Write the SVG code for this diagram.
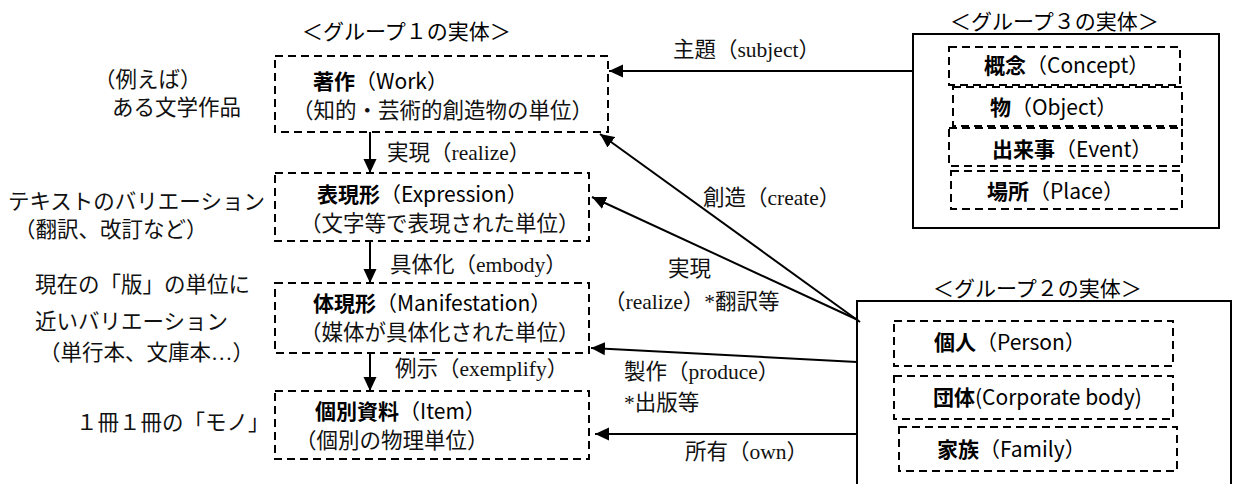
<svg xmlns="http://www.w3.org/2000/svg" width="1233" height="484" viewBox="0 0 1233 484">
<style>
.bg{fill:#fff}
.dash{fill:none;stroke:#000;stroke-width:2;stroke-dasharray:8,5}
.solid{fill:#fff;stroke:#000;stroke-width:2}
.con{fill:none;stroke:#000;stroke-width:2}
.m{font-family:"Liberation Serif","Noto Sans CJK JP",serif;font-size:21.5px;fill:#111;dominant-baseline:central}
.g{font-family:"Noto Sans CJK JP",sans-serif;font-size:21px;fill:#000;dominant-baseline:central}
.b{font-weight:bold}
</style>
<defs>
<marker id="ah" markerUnits="userSpaceOnUse" markerWidth="15" markerHeight="14" refX="14" refY="7" orient="auto">
<path d="M0,0.5 L14,7 L0,13.5 z" fill="#000"/>
</marker>
</defs>
<rect class="bg" x="0" y="0" width="1233" height="484"/>

<!-- Left annotation texts -->
<g id="annotations">
<text class="m" x="94" y="80">（例えば）</text>
<text class="m" x="112" y="108">ある文学作品</text>
<text class="m" x="8" y="202">テキストのバリエーション</text>
<text class="m" x="14" y="230">（翻訳、改訂など）</text>
<text class="m" x="35" y="285">現在の「版」の単位に</text>
<text class="m" x="35" y="322">近いバリエーション</text>
<text class="m" x="39" y="353">（単行本、文庫本…）</text>
<text class="m" x="76" y="423">１冊１冊の「モノ」</text>
</g>

<!-- Group 1 -->
<g id="group1">
<text class="g" x="302" y="30">＜グループ１の実体＞</text>
</g>
<g id="work">
<rect class="dash" x="275" y="56" width="333" height="76"/>
<text class="g" x="313" y="80"><tspan class="b">著作</tspan>（Work）</text>
<text class="m" x="292" y="111">（知的・芸術的創造物の単位）</text>
</g>
<g id="expression">
<rect class="dash" x="275" y="173" width="314" height="68"/>
<text class="g" x="317" y="193"><tspan class="b">表現形</tspan>（Expression）</text>
<text class="m" x="300" y="224">（文字等で表現された単位）</text>
</g>
<g id="manifestation">
<rect class="dash" x="275" y="283" width="314" height="70"/>
<text class="g" x="313" y="302"><tspan class="b">体現形</tspan>（Manifestation）</text>
<text class="m" x="300" y="333">（媒体が具体化された単位）</text>
</g>
<g id="item">
<rect class="dash" x="275" y="391" width="314" height="68"/>
<text class="g" x="315" y="410"><tspan class="b">個別資料</tspan>（Item）</text>
<text class="m" x="295" y="441">（個別の物理単位）</text>
</g>

<!-- Group 3 -->
<g id="group3">
<text class="g" x="950" y="20">＜グループ３の実体＞</text>
<rect class="solid" x="913" y="34" width="306" height="194"/>
</g>
<g id="concept">
<rect class="dash" x="949" y="47" width="231" height="38"/>
<text class="g" x="984" y="64"><tspan class="b">概念</tspan>（Concept）</text>
</g>
<g id="object">
<rect class="dash" x="953" y="87" width="229" height="39"/>
<text class="g" x="990" y="106"><tspan class="b">物</tspan>（Object）</text>
</g>
<g id="event">
<rect class="dash" x="949" y="128" width="233" height="38"/>
<text class="g" x="992" y="148"><tspan class="b">出来事</tspan>（Event）</text>
</g>
<g id="place">
<rect class="dash" x="951" y="171" width="231" height="38"/>
<text class="g" x="987" y="190"><tspan class="b">場所</tspan>（Place）</text>
</g>

<!-- Group 2 -->
<g id="group2">
<text class="g" x="933" y="287">＜グループ２の実体＞</text>
<rect class="solid" x="857" y="301" width="374" height="200"/>
</g>
<g id="person">
<rect class="dash" x="894" y="321" width="279" height="45"/>
<text class="g" x="934" y="341"><tspan class="b">個人</tspan>（Person）</text>
</g>
<g id="corporate">
<rect class="dash" x="894" y="376" width="279" height="43"/>
<text class="g" x="933" y="396"><tspan class="b">団体</tspan>(Corporate body)</text>
</g>
<g id="family">
<rect class="dash" x="899" y="427" width="278" height="44"/>
<text class="g" x="937" y="448"><tspan class="b">家族</tspan>（Family）</text>
</g>

<!-- Connectors -->
<g id="connectors">
<line class="con" x1="370" y1="132" x2="370" y2="173" marker-end="url(#ah)"/>
<line class="con" x1="370" y1="241" x2="370" y2="283" marker-end="url(#ah)"/>
<line class="con" x1="370" y1="353" x2="370" y2="391" marker-end="url(#ah)"/>
<line class="con" x1="913" y1="71" x2="609" y2="71" marker-end="url(#ah)"/>
<line class="con" x1="860" y1="322" x2="600" y2="134" marker-end="url(#ah)"/>
<line class="con" x1="858" y1="320" x2="592" y2="197" marker-end="url(#ah)"/>
<line class="con" x1="857" y1="362" x2="591" y2="348" marker-end="url(#ah)"/>
<line class="con" x1="857" y1="434" x2="595" y2="434" marker-end="url(#ah)"/>
<text class="m" x="387" y="153">実現（realize）</text>
<text class="m" x="390" y="265">具体化（embody）</text>
<text class="m" x="395" y="369">例示（exemplify）</text>
<text class="m" x="673" y="50">主題（subject）</text>
<text class="m" x="703" y="198">創造（create）</text>
<text class="m" x="668" y="269">実現</text>
<text class="m" x="604" y="302">（realize）*翻訳等</text>
<text class="m" x="624" y="372">製作（produce）</text>
<text class="m" x="624" y="403">*出版等</text>
<text class="m" x="685" y="452">所有（own）</text>
</g>
</svg>
